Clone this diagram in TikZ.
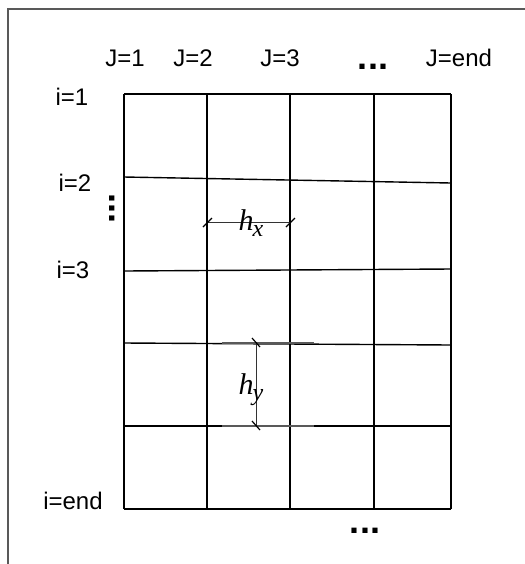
\documentclass[tikz,border=0pt]{standalone}
\usepackage{fontspec}
\setmainfont{Liberation Sans}
\newfontfamily\serifit{Liberation Serif}
\usetikzlibrary{positioning}

\tikzset{
  lbl/.style={font=\fontsize{12}{14}\selectfont, anchor=base, inner sep=0pt},
  dotlbl/.style={font=\fontsize{18}{20}\selectfont\bfseries, anchor=base, inner sep=0pt},
  steplbl/.style={font=\fontsize{15}{17}\selectfont\serifit\itshape, anchor=base, inner sep=0pt},
  gridline/.style={line width=0.7pt},
  dimline/.style={line width=0.5pt, black!80},
  dimtick/.style={line width=0.6pt},
  extline/.style={line width=1pt, black!65},
  frameline/.style={line width=0.8pt, black!65}
}
\newcommand{\steptext}[2]{#1\kern-0.5pt\raisebox{-0.22em}{\fontsize{12}{12}\selectfont #2}}

\begin{document}
\begin{tikzpicture}[x=0.5pt,y=-0.5pt]
  \useasboundingbox (0,0) rectangle (525,564);

  % Frame
  \draw[frameline] (8,564) -- (8,9) -- (525,9);

  % Grid columns
  \foreach \xx in {124,207,290,374,451}
    \draw[gridline] (\xx,94) -- (\xx,509);
  % Grid rows
  \foreach \ya/\yb in {94/94,177/183,271/269,343/345,426/426,509/509}
    \draw[gridline] (124,\ya) -- (451,\yb);

  % Column labels
  \node[lbl] (j1) at (125,66) {J=1};
  \node[lbl] (j2) at (193,66) {J=2};
  \node[lbl] (j3) at (280,66) {J=3};
  \node[dotlbl] (jdots) at (373,69) {...};
  \node[lbl] (jend) at (459,66) {J=end};

  % Row labels
  \node[lbl] (i1) at (72,105) {i=1};
  \node[lbl] (i2) at (75,191) {i=2};
  \node[dotlbl, rotate=-90] (idots) at (110,208) {...};
  \node[lbl] (i3) at (73,278) {i=3};
  \node[lbl] (iend) at (73,509) {i=end};
  \node[dotlbl] (bdots) at (365,533) {...};

  % Step h_x
  \coordinate (hxa) at (207,222);
  \coordinate (hxb) at (290,222);
  \draw[dimline] (hxa) -- (hxb);
  \draw[dimtick] ([shift={(-4,5)}]hxa) -- ([shift={(5,-4)}]hxa);
  \draw[dimtick] ([shift={(-4,5)}]hxb) -- ([shift={(5,-4)}]hxb);
  \node[steplbl] (hx) at (251,230) {\steptext{h}{x}};

  % Step h_y
  \coordinate (hya) at (256,343);
  \coordinate (hyb) at (256,426);
  \draw[extline] ([xshift=-17]hya) -- ([xshift=29]hya);
  \draw[extline] ([xshift=-17]hyb) -- ([xshift=29]hyb);
  \draw[dimline] (hya) -- (hyb);
  \draw[dimtick] ([shift={(-4,-5)}]hya) -- ([shift={(4,4)}]hya);
  \draw[dimtick] ([shift={(-4,-5)}]hyb) -- ([shift={(4,4)}]hyb);
  \node[steplbl] (hy) at (251,394) {\steptext{h}{y}};
\end{tikzpicture}
\end{document}
